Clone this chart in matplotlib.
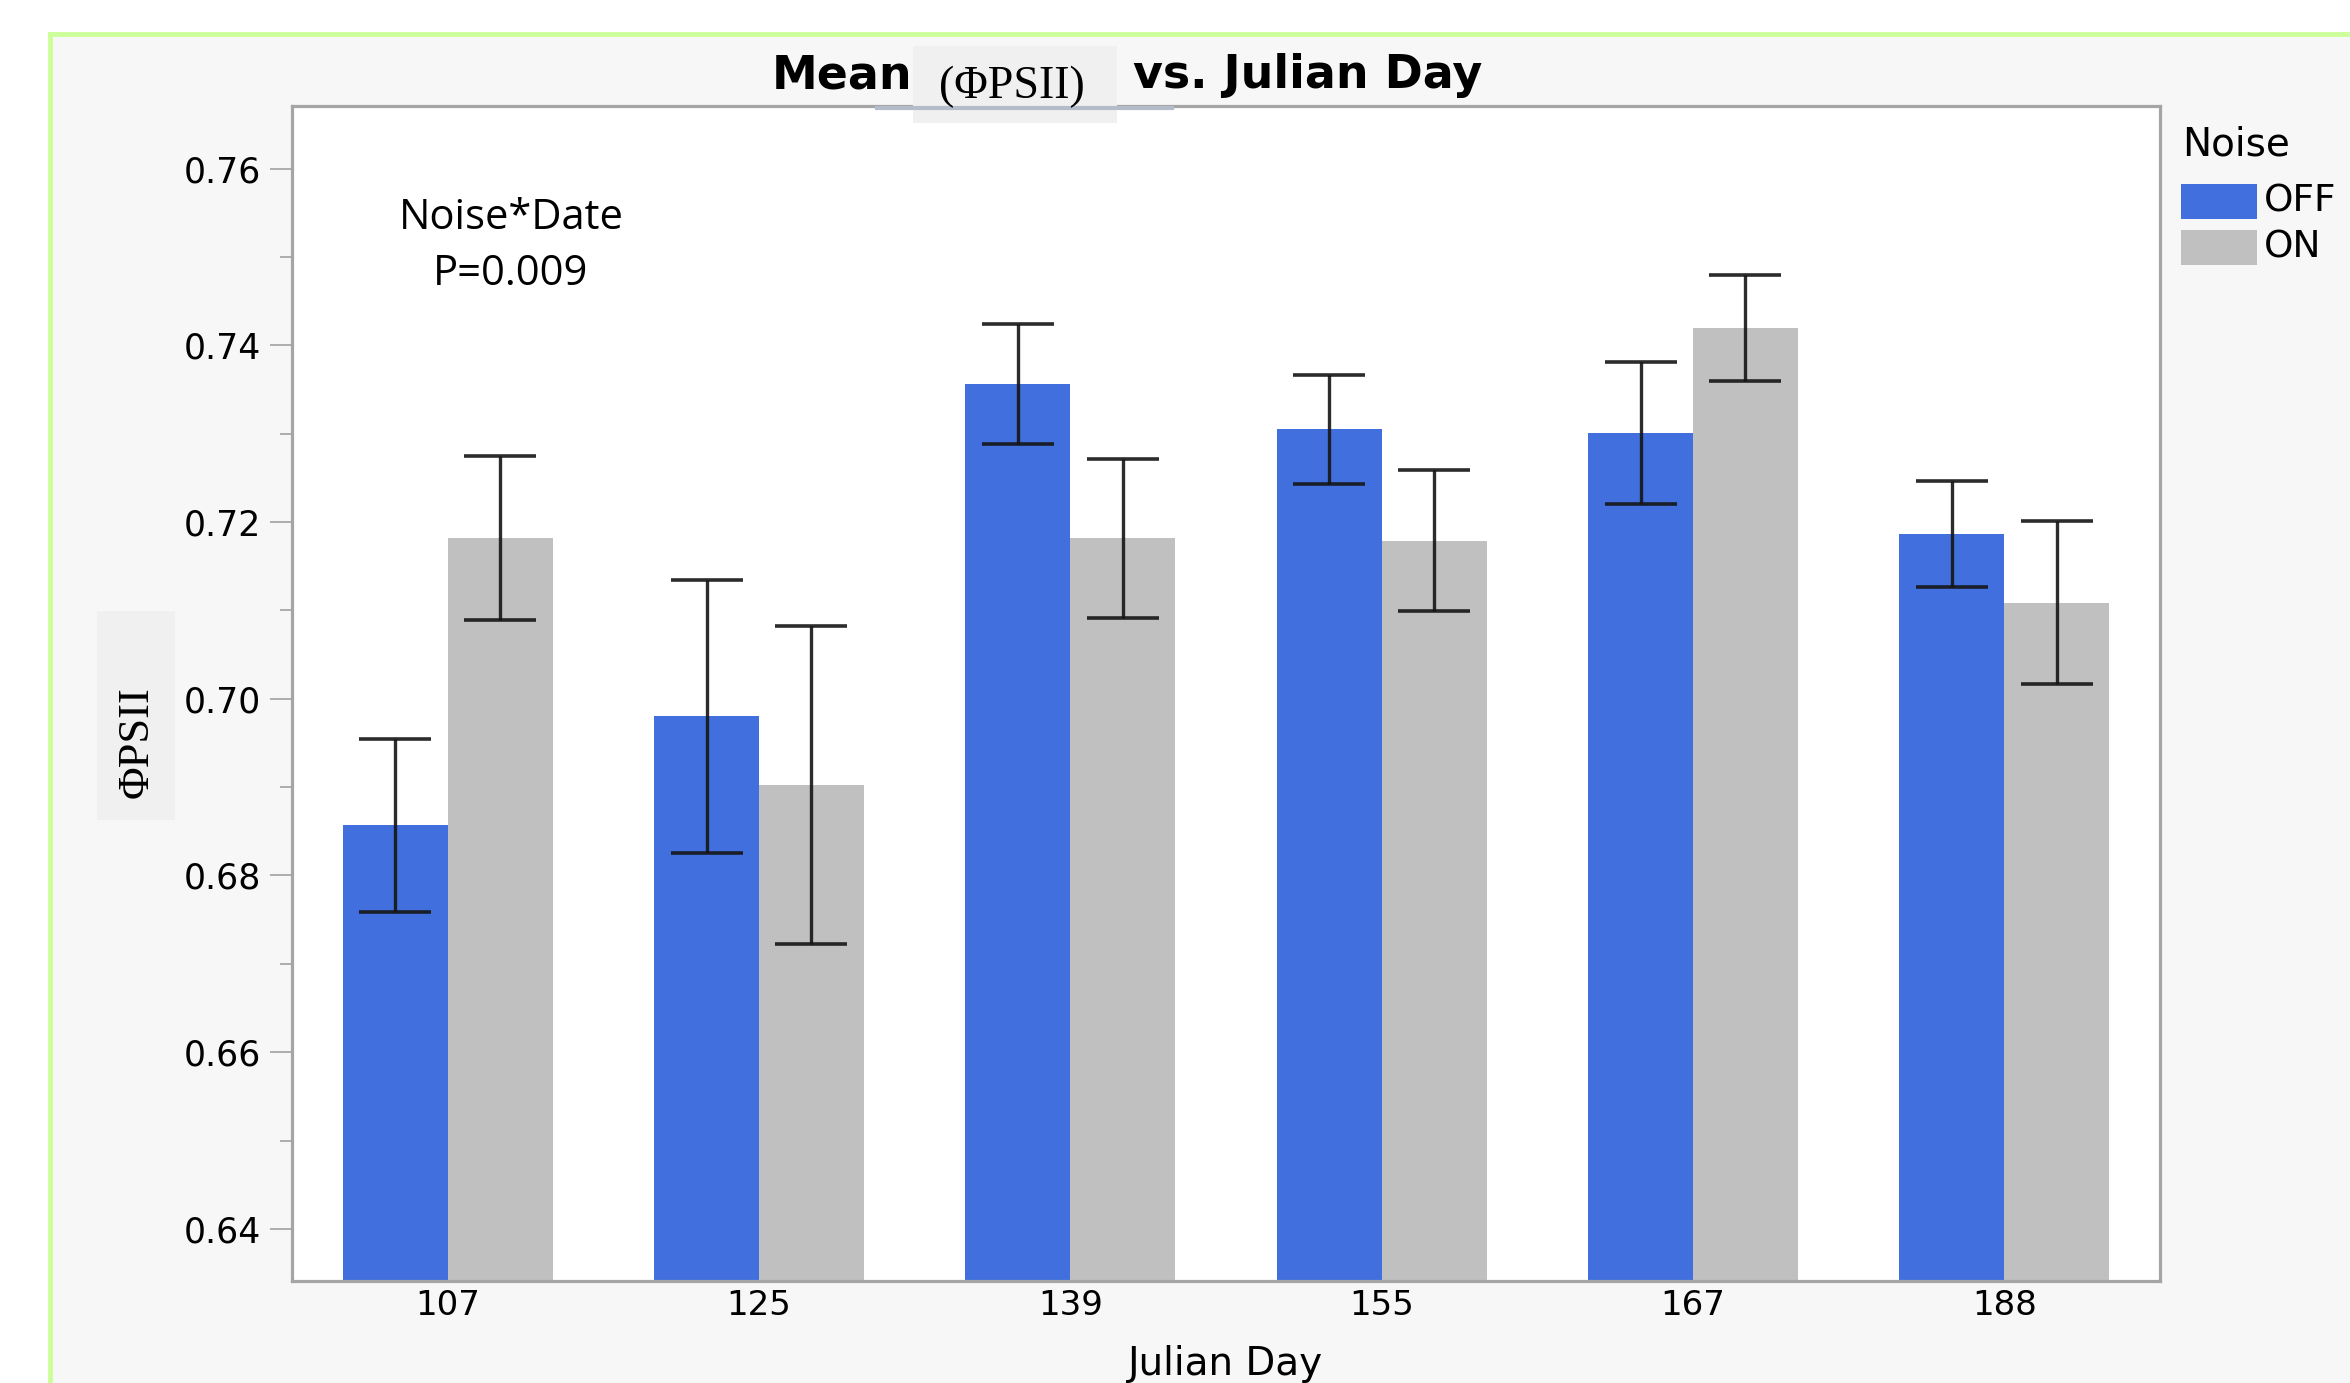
import matplotlib
matplotlib.use("Agg")
import matplotlib.pyplot as plt
import numpy as np
from matplotlib.patches import Rectangle
from matplotlib.lines import Line2D

# ---- data ----
days = ["107", "125", "139", "155", "167", "188"]
noise_levels = ["OFF", "ON"]
mean_off = [0.6857, 0.6980, 0.7356, 0.7305, 0.7301, 0.7186]
mean_on = [0.7182, 0.6902, 0.7182, 0.7179, 0.7420, 0.7109]
err_off = [0.0098, 0.0155, 0.0068, 0.0062, 0.0080, 0.0060]
err_on = [0.0093, 0.0180, 0.0090, 0.0080, 0.0060, 0.0092]
yticks = [0.64, 0.66, 0.68, 0.70, 0.72, 0.74, 0.76]
annotation = "Noise*Date\nP=0.009"

W, H = 2350, 1383
DPI = 100
fig = plt.figure(figsize=(W / DPI, H / DPI), dpi=DPI, facecolor="white")

def fx(px):
    return px / W

def fy(py):
    return 1 - py / H

# panel background + green border
fig.add_artist(Rectangle((fx(50), 0), 1 - fx(50), fy(34), transform=fig.transFigure,
                         facecolor="#f7f7f7", edgecolor="none", zorder=0))
fig.add_artist(Line2D([fx(50), fx(50)], [0, fy(34)], transform=fig.transFigure,
                      color="#ccff99", lw=3.5, zorder=1))
fig.add_artist(Line2D([fx(50), 1], [fy(34), fy(34)], transform=fig.transFigure,
                      color="#ccff99", lw=3.5, zorder=1))

ax = fig.add_axes([fx(292), fy(1281), fx(2160) - fx(292), fy(106) - fy(1281)])
ax.set_facecolor("white")

x = np.arange(len(days))
bw = 0.337
colors = ["#4170de", "#c0c0c0"]
ax.bar(x - bw / 2, mean_off, width=bw, color=colors[0], zorder=2)
ax.bar(x + bw / 2, mean_on, width=bw, color=colors[1], zorder=2)
ax.errorbar(x - bw / 2, mean_off, yerr=err_off, fmt="none", ecolor="#151515",
            elinewidth=2.4, capsize=26, capthick=2.6, zorder=3, alpha=0.9)
ax.errorbar(x + bw / 2, mean_on, yerr=err_on, fmt="none", ecolor="#151515",
            elinewidth=2.4, capsize=26, capthick=2.6, zorder=3, alpha=0.9)

ax.set_xlim(-0.5, len(days) - 0.5)
ax.set_ylim(0.6341, 0.7671)
ax.set_xticks(x)
ax.set_xticklabels(days)
ax.set_yticks(yticks)
ax.set_yticklabels([f"{v:.2f}" for v in yticks])
ax.set_yticks(np.arange(0.65, 0.77, 0.02), minor=True)
ax.tick_params(axis="y", which="major", length=16, width=1.2, color="#a0a0a0",
               labelsize=25, pad=6)
ax.tick_params(axis="y", which="minor", length=9, width=1.2, color="#a0a0a0")
ax.tick_params(axis="x", length=0, labelsize=24.5, pad=6)
for s in ax.spines.values():
    s.set_color("#a5a5a5")
    s.set_linewidth(2.3)

ax.set_xlabel("Julian Day", fontsize=28, labelpad=16)

# annotation
ax.text(fx(511 - 292) / (fx(2160) - fx(292)), 0.881, annotation, transform=ax.transAxes,
        ha="center", va="center", fontsize=30, family="Open Sans", linespacing=1.45)

# title pieces
fig.add_artist(Rectangle((fx(913), fy(123)), fx(1117) - fx(913), fy(46) - fy(123),
                         transform=fig.transFigure, facecolor="#f0f0f0",
                         edgecolor="none", zorder=1))
fig.text(fx(772), fy(76), "Mean", ha="left", va="center", fontsize=33,
         fontweight="bold", zorder=5)
fig.text(fx(1012), fy(87), "(ΦPSII)", ha="center", va="center", fontsize=33,
         family="Liberation Serif", zorder=5)
fig.text(fx(1133), fy(76), "vs. Julian Day", ha="left", va="center", fontsize=33,
         fontweight="bold", zorder=5)
fig.add_artist(Line2D([fx(877), fx(1172)], [fy(108), fy(108)], transform=fig.transFigure,
                      color="#b4bccb", lw=3, zorder=4))

# y label with box
fig.add_artist(Rectangle((fx(97), fy(820)), fx(175) - fx(97), fy(611) - fy(820),
                         transform=fig.transFigure, facecolor="#f0f0f0",
                         edgecolor="none", zorder=1))
fig.text(fx(137), fy(742), "ΦPSII", rotation=90, ha="center", va="center",
         fontsize=32, family="Liberation Serif", zorder=5)

# legend
fig.text(fx(2182), fy(144), "Noise", ha="left", va="center", fontsize=28)
rows = [(184, 219), (230, 265)]
for lab, col, (t, b) in zip(noise_levels, colors, rows):
    fig.add_artist(Rectangle((fx(2181), fy(b)), fx(2257) - fx(2181), fy(t) - fy(b),
                             transform=fig.transFigure, facecolor=col, edgecolor="none"))
    fig.text(fx(2264), fy((t + b) / 2), lab, ha="left", va="center", fontsize=27)

fig.savefig("out.png", dpi=DPI, facecolor=fig.get_facecolor())
